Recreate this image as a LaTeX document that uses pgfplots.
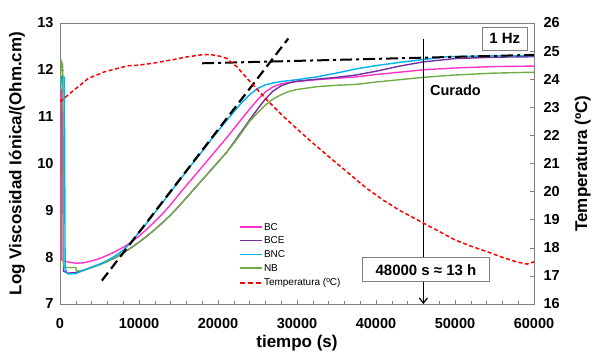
\documentclass[border=0pt]{standalone}
\usepackage{pgfplots}
\pgfplotsset{compat=1.18}
\usepackage{pgfplotstable}
\usepackage{fontspec}
\setmainfont{Liberation Sans}
\usetikzlibrary{arrows.meta}
\definecolor{cBC}{HTML}{FF33CC}
\definecolor{cBCE}{HTML}{7030A0}
\definecolor{cBNC}{HTML}{00B0F0}
\definecolor{cNB}{HTML}{70AD47}
\definecolor{cT}{HTML}{FF0000}
\definecolor{axgray}{RGB}{128,128,128}

\pgfplotstableread{
x y
0 11.4
150 11.5
200 7.95
400 7.92
1000 7.9
2000 7.87
3000 7.88
4000 7.92
5000 7.97
6000 8.04
7000 8.12
8000 8.21
9000 8.32
10000 8.45
11000 8.6
12000 8.76
13000 8.93
14000 9.12
15000 9.33
16000 9.53
17000 9.73
18000 9.93
19000 10.13
20000 10.33
21000 10.53
22000 10.74
23000 10.95
24000 11.16
25000 11.36
26000 11.53
27000 11.64
28000 11.7
29000 11.73
30000 11.75
32500 11.79
35000 11.82
37500 11.85
40000 11.9
43000 11.95
46000 12.0
50000 12.04
55000 12.07
60000 12.08
}\dataBC

\pgfplotstableread{
x y
0 11.9
300 11.8
450 7.7
1000 7.66
2000 7.67
3000 7.72
4000 7.78
5000 7.84
6000 7.91
7000 7.99
8000 8.09
9000 8.2
10000 8.32
11000 8.45
12000 8.59
13000 8.74
14000 8.9
15000 9.08
16000 9.27
17000 9.46
18000 9.65
19000 9.84
20000 10.03
21000 10.22
22000 10.45
23000 10.69
24000 10.93
25000 11.16
26000 11.38
27000 11.55
28000 11.66
29000 11.72
30000 11.76
32500 11.8
35000 11.84
37500 11.89
40000 11.97
43000 12.08
46000 12.17
50000 12.24
55000 12.27
60000 12.28
}\dataBCE

\pgfplotstableread{
x y
0 11.6
300 11.84
550 11.84
650 7.75
1000 7.64
2000 7.65
3000 7.72
4000 7.79
5000 7.85
6000 7.93
7000 8.03
8000 8.15
9000 8.32
10000 8.53
11000 8.73
12000 8.95
13000 9.17
14000 9.39
15000 9.61
16000 9.83
17000 10.05
18000 10.26
19000 10.48
20000 10.69
21000 10.9
22000 11.1
23000 11.3
24000 11.47
25000 11.6
26000 11.68
27000 11.72
28000 11.75
30000 11.79
32500 11.85
35000 11.93
37500 12.02
40000 12.09
43000 12.16
46000 12.22
49000 12.28
52000 12.29
56000 12.3
60000 12.3
}\dataBNC

\pgfplotstableread{
x y
0 11.7
200 12.17
350 12.1
450 7.8
700 7.78
2000 7.78
2100 7.7
3000 7.72
4000 7.78
5000 7.84
6000 7.91
7000 7.99
8000 8.09
9000 8.2
10000 8.32
11000 8.45
12000 8.59
13000 8.74
14000 8.9
15000 9.08
16000 9.27
17000 9.46
18000 9.65
19000 9.84
20000 10.03
21000 10.22
22000 10.43
23000 10.66
24000 10.9
25000 11.08
26000 11.25
27000 11.38
28000 11.47
29000 11.54
30000 11.58
32500 11.64
35000 11.67
37500 11.69
40000 11.74
43000 11.79
46000 11.84
50000 11.89
55000 11.93
60000 11.95
}\dataNB

\pgfplotstableread{
x y
0 23.2
1500 23.55
3600 24.03
5700 24.27
8650 24.48
10000 24.5
12000 24.58
14000 24.68
16000 24.79
17700 24.86
19000 24.88
20200 24.82
21100 24.74
22400 24.44
24000 23.93
26200 23.26
28300 22.67
30400 22.13
32000 21.73
34000 21.25
36000 20.78
37550 20.41
39000 20.08
40900 19.7
43000 19.33
45000 19.03
46000 18.88
48000 18.58
50000 18.28
52000 18.06
54000 17.87
56000 17.66
57800 17.5
59100 17.42
60000 17.5
}\dataT

\begin{document}
\begin{tikzpicture}
\pgfplotsset{
  common/.style={
    scale only axis, width=474pt, height=281pt,
    xmin=0, xmax=60000,
    axis line style={axgray, line width=0.8pt},
    every tick/.style={axgray, line width=0.6pt},
    tick align=inside,
    major tick length=4pt, minor tick length=3pt,
    ticklabel style={font=\bfseries\fontsize{14.5}{15}\selectfont},
    /pgf/number format/assume math mode=true,
    /pgf/number format/1000 sep={},
    scaled ticks=false,
  }
}
\begin{axis}[common,
  ymin=7, ymax=13,
  xtick={0,10000,...,60000}, minor x tick num=4,
  ytick={7,...,13},
  xtick pos=bottom, ytick pos=left,
  xlabel={tiempo (s)},
  ylabel={Log Viscosidad Iónica/(Ohm.cm)},
  xlabel style={font=\bfseries\fontsize{17}{18}\selectfont, at={(axis description cs:0.5,-0.139)}, anchor=center},
  ylabel style={font=\bfseries\fontsize{17}{18}\selectfont, at={(axis description cs:-0.091,0.5)}, anchor=center},
  xticklabel style={yshift=-11pt},
  yticklabel style={xshift=-3pt},
]
\addplot[cBC, line width=1.4pt] table {\dataBC};
\addplot[cBCE, line width=1.4pt] table {\dataBCE};
\addplot[cNB, line width=1.4pt] table {\dataNB};
\addplot[cBNC, line width=1.4pt] table {\dataBNC};
\addplot[black, line width=2.2pt, dash pattern=on 10pt off 5pt] coordinates {(5300,7.5) (28900,12.67)};
\addplot[black, line width=2pt, dash pattern=on 12pt off 4pt on 3pt off 4pt] coordinates {(18000,12.14) (60000,12.32)};
\addplot[black, line width=1.2pt, -{Straight Barb[length=5pt,width=8pt]}] coordinates {(46000,12.66) (46000,7.0)};
\node[anchor=west, font=\bfseries\fontsize{14.5}{15}\selectfont] at (axis cs:46400,11.57) {Curado};
\node[draw=axgray, fill=white, line width=0.8pt, inner xsep=13pt, minimum height=24pt, font=\bfseries\fontsize{15}{16}\selectfont] at (axis cs:46330,7.73) {48000 s ≈ 13 h};
\node[draw=axgray, fill=white, line width=0.8pt, inner xsep=7pt, minimum height=23pt, font=\bfseries\fontsize{15}{16}\selectfont] at (axis cs:56300,12.67) {1 Hz};
% legend
\draw[cBC, line width=1.5pt] (axis description cs:0.380,0.274) -- (axis description cs:0.427,0.274);
\node[anchor=west, inner sep=0pt, font=\fontsize{10}{11}\selectfont] at (axis description cs:0.430,0.274) {BC};
\draw[cBCE, line width=1.5pt] (axis description cs:0.380,0.226) -- (axis description cs:0.427,0.226);
\node[anchor=west, inner sep=0pt, font=\fontsize{10}{11}\selectfont] at (axis description cs:0.430,0.226) {BCE};
\draw[cBNC, line width=1.5pt] (axis description cs:0.380,0.176) -- (axis description cs:0.427,0.176);
\node[anchor=west, inner sep=0pt, font=\fontsize{10}{11}\selectfont] at (axis description cs:0.430,0.176) {BNC};
\draw[cNB, line width=1.5pt] (axis description cs:0.380,0.128) -- (axis description cs:0.427,0.128);
\node[anchor=west, inner sep=0pt, font=\fontsize{10}{11}\selectfont] at (axis description cs:0.430,0.128) {NB};
\draw[cT, line width=1.5pt, dash pattern=on 5pt off 3pt] (axis description cs:0.380,0.075) -- (axis description cs:0.427,0.075);
\node[anchor=west, inner sep=0pt, font=\fontsize{10}{11}\selectfont] at (axis description cs:0.430,0.075) {Temperatura (ºC)};
\end{axis}
\begin{axis}[common,
  ymin=16, ymax=26,
  ytick={16,...,26},
  axis y line*=right, axis x line=none,
  ylabel={Temperatura (ºC)},
  ylabel style={font=\bfseries\fontsize{17}{18}\selectfont, at={(axis description cs:1.103,0.5)}, anchor=center},
  yticklabel style={xshift=6pt},
]
\addplot[cT, line width=1.5pt, dash pattern=on 4pt off 2.5pt] table {\dataT};
\end{axis}
\pgfresetboundingbox
\useasboundingbox ([shift={(-60pt,-55pt)}]current axis.south west) rectangle ([shift={(66pt,23pt)}]current axis.north east);
\end{tikzpicture}
\end{document}
